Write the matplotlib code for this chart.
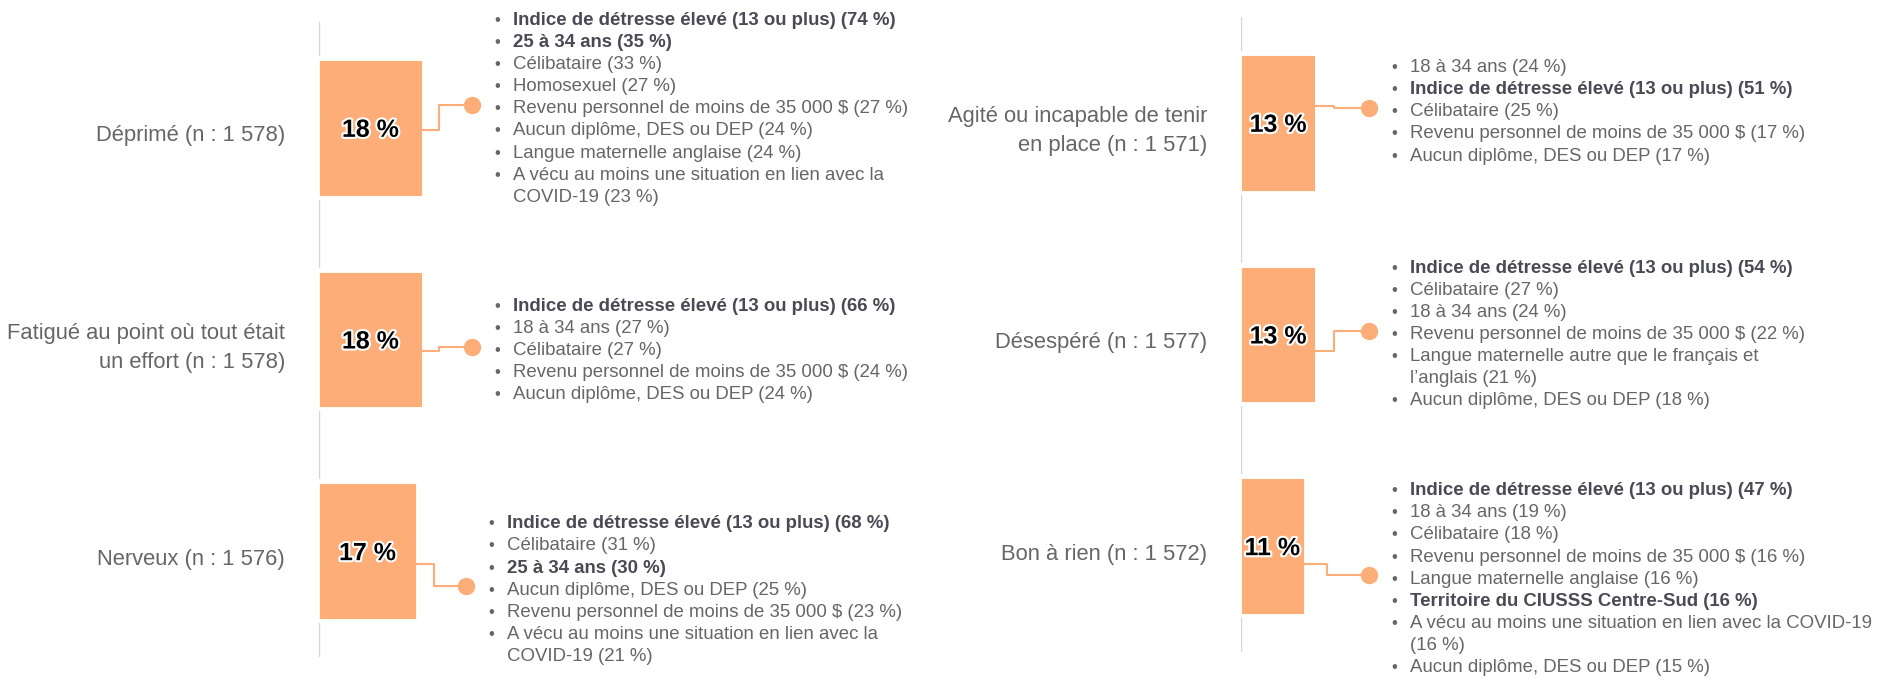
import matplotlib.pyplot as plt
import matplotlib.patheffects as pe

plt.rcParams['font.family'] = ['Liberation Sans', 'DejaVu Sans']

### Donnees
cats_g = ["Déprimé (n : 1 578)",
          "Fatigué au point où tout était\nun effort (n : 1 578)",
          "Nerveux (n : 1 576)"]
vals_g = [18, 18, 17]

cats_d = ["Agité ou incapable de tenir\nen place (n : 1 571)",
          "Désespéré (n : 1 577)",
          "Bon à rien (n : 1 572)"]
vals_d = [13, 13, 11]

# (texte, gras)
notes_g = [
    [("Indice de détresse élevé (13 ou plus) (74 %)", True),
     ("25 à 34 ans (35 %)", True),
     ("Célibataire (33 %)", False),
     ("Homosexuel (27 %)", False),
     ("Revenu personnel de moins de 35 000 $ (27 %)", False),
     ("Aucun diplôme, DES ou DEP (24 %)", False),
     ("Langue maternelle anglaise (24 %)", False),
     ("A vécu au moins une situation en lien avec la\nCOVID-19 (23 %)", False)],
    [("Indice de détresse élevé (13 ou plus) (66 %)", True),
     ("18 à 34 ans (27 %)", False),
     ("Célibataire (27 %)", False),
     ("Revenu personnel de moins de 35 000 $ (24 %)", False),
     ("Aucun diplôme, DES ou DEP (24 %)", False)],
    [("Indice de détresse élevé (13 ou plus) (68 %)", True),
     ("Célibataire (31 %)", False),
     ("25 à 34 ans (30 %)", True),
     ("Aucun diplôme, DES ou DEP (25 %)", False),
     ("Revenu personnel de moins de 35 000 $ (23 %)", False),
     ("A vécu au moins une situation en lien avec la\nCOVID-19 (21 %)", False)],
]

notes_d = [
    [("18 à 34 ans (24 %)", False),
     ("Indice de détresse élevé (13 ou plus) (51 %)", True),
     ("Célibataire (25 %)", False),
     ("Revenu personnel de moins de 35 000 $ (17 %)", False),
     ("Aucun diplôme, DES ou DEP (17 %)", False)],
    [("Indice de détresse élevé (13 ou plus) (54 %)", True),
     ("Célibataire (27 %)", False),
     ("18 à 34 ans (24 %)", False),
     ("Revenu personnel de moins de 35 000 $ (22 %)", False),
     ("Langue maternelle autre que le français et\nl’anglais (21 %)", False),
     ("Aucun diplôme, DES ou DEP (18 %)", False)],
    [("Indice de détresse élevé (13 ou plus) (47 %)", True),
     ("18 à 34 ans (19 %)", False),
     ("Célibataire (18 %)", False),
     ("Revenu personnel de moins de 35 000 $ (16 %)", False),
     ("Langue maternelle anglaise (16 %)", False),
     ("Territoire du CIUSSS Centre-Sud (16 %)", True),
     ("A vécu au moins une situation en lien avec la COVID-19\n(16 %)", False),
     ("Aucun diplôme, DES ou DEP (15 %)", False)],
]

### Mise en page (pixels)
W, H = 1888, 679
PX_PCT = 5.72          # pixels par %
BAND = 635 / 3         # pixels par categorie
ORANGE = '#fdae78'
# decalage vertical du bloc de texte et du depart du connecteur (px, vers le bas)
bloc_g, depart_g = [-23, 7, 35], [2, 11, 13]
bloc_d, depart_d = [-15, -4, 29], [-17, 16, 18]

fig = plt.figure(figsize=(W / 100, H / 100), dpi=100)


def panneau(x0, top, cats, vals, notes, bloc, depart):
    wpx = 560
    ax = fig.add_axes([x0 / W, (H - top - 635) / H, wpx / W, 635 / H])
    ax.set_xlim(0, wpx / PX_PCT)
    ax.set_ylim(2.5, -0.5)
    ax.axis('off')
    px = 1 / PX_PCT   # 1 px en unites x
    py = 1 / BAND     # 1 px en unites y

    ax.axvline(-0.5 * px, color='#ccd6eb', lw=1, zorder=1)
    ys = range(len(vals))
    # fond blanc qui coupe la ligne d'axe autour des barres
    ax.barh(ys, [v + 4 * px for v in vals], left=-2 * px, height=0.64 + 8 * py,
            color='white', zorder=2)
    ax.barh(ys, vals, height=0.64, color=ORANGE, edgecolor='white', linewidth=0.6, zorder=3)

    for i, v in enumerate(vals):
        ax.text(-34 * px, i + 8 * py, cats[i], ha='right', va='center', fontsize=15.8,
                color='#666666', linespacing=1.5)
        ax.text(v / 2, i + 2 * py, "%d %%" % v, ha='center', va='center', fontsize=18,
                fontweight='bold', color='black', zorder=5,
                path_effects=[pe.withStroke(linewidth=3, foreground='white')])

        # position du texte
        xt = max(v + 75 * px, 153 * px)
        xd = xt - 25 * px
        yd = i + bloc[i] * py
        ys0 = i + depart[i] * py
        xc = v + 0.35 * (xd - v)
        ax.plot([v, xc, xc, xd], [ys0, ys0, yd, yd], color=ORANGE, lw=1.5, zorder=4,
                clip_on=False)
        ax.plot(xd, yd, 'o', ms=11.5, color=ORANGE, zorder=4, clip_on=False)

        lignes = []
        for txt, gras in notes[i]:
            for k, morceau in enumerate(txt.split("\n")):
                lignes.append((morceau, gras, k == 0))
        n = len(lignes)
        for j, (morceau, gras, puce) in enumerate(lignes):
            yl = yd + 4 * py + (j - (n - 1) / 2) * 22.1 * py
            if puce:
                ax.text(xt, yl, "•", ha='center', va='center', fontsize=12,
                        color='#666666', clip_on=False)
            ax.text(xt + 16 * px, yl, morceau, ha='left', va='center', fontsize=13.4,
                    fontweight='bold' if gras else 'normal',
                    color='#4a4a55' if gras else '#666666', clip_on=False)
    return ax


panneau(319, 22, cats_g, vals_g, notes_g, bloc_g, depart_g)
panneau(1241, 17, cats_d, vals_d, notes_d, bloc_d, depart_d)

plt.savefig('out.png', dpi=100)
